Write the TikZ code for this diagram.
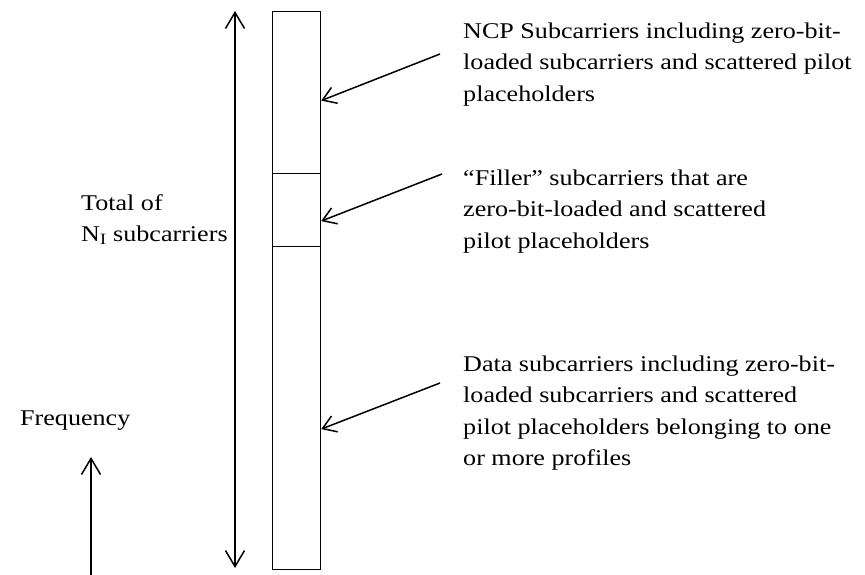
\documentclass[tikz,border=0pt]{standalone}
\usepackage{fontspec}
\setmainfont{Liberation Serif}[FakeStretch=1.16]
\usetikzlibrary{arrows.meta}
\begin{document}
\begin{tikzpicture}[x=1pt,y=-1pt,
  band/.style={draw,line width=1.2pt,minimum width=48pt,inner sep=0pt,anchor=north west},
  lbl/.style={align=left,inner sep=0pt,anchor=north west,font=\fontsize{22.5}{31.5}\selectfont},
  bigarrow/.style={line width=1.5pt,-{Straight Barb[length=16pt,width=19pt,line width=1.5pt]}},
  callout/.style={line width=1.5pt,-{Straight Barb[length=13pt,width=17pt,line width=1.5pt]}}]
\useasboundingbox (0,0) rectangle (865,575);
% frequency band
\node[band,minimum height=162pt] (ncp) at (272,11) {};
\node[band,minimum height=73pt] (fill) at (272,173) {};
\node[band,minimum height=323pt] (data) at (272,246) {};
% total span arrow
\coordinate (ttop) at (235,11);
\coordinate (tbot) at (235,568);
\draw[line width=1.5pt,{Straight Barb[length=16pt,width=19pt,line width=1.5pt]}-{Straight Barb[length=16pt,width=19pt,line width=1.5pt]}] (ttop) -- (tbot);
\node[lbl] (total) at (81,188) {\strut Total of\\N\textsubscript{I} subcarriers};
% frequency axis
\node[lbl,anchor=base west] (freq) at (20,425) {Frequency};
\coordinate (fbot) at (91,575);
\coordinate (ftop) at (91,457);
\draw[bigarrow] (fbot) -- (ftop);
% labels
\node[lbl] (ncptxt) at (463,16) {\strut NCP Subcarriers including zero-bit-\\loaded subcarriers and scattered pilot\\placeholders};
\node[lbl] (filltxt) at (463,163) {\strut ``Filler'' subcarriers that are\\zero-bit-loaded and scattered\\pilot placeholders};
\node[lbl] (datatxt) at (463,349) {\strut Data subcarriers including zero-bit-\\loaded subcarriers and scattered\\pilot placeholders belonging to one\\or more profiles};
% callouts
\coordinate (c1) at (440,54);
\coordinate (c2) at (442,174);
\coordinate (c3) at (440,383);
\draw[callout] (c1) -- ([yshift=-8pt]ncp.east);
\draw[callout] (c2) -- ([yshift=-11pt]fill.east);
\draw[callout] (c3) -- ([yshift=-21pt]data.east);
\end{tikzpicture}
\end{document}
